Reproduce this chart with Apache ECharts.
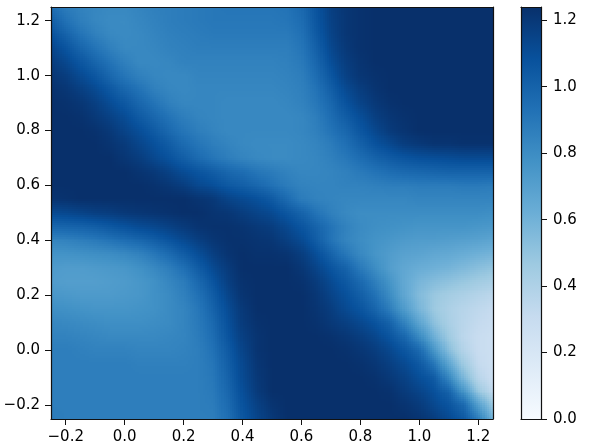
<!DOCTYPE html>
<html>
<head>
<meta charset="utf-8">
<style>html,body{margin:0;padding:0;background:#fff}#c{width:598px;height:448px}</style>
<script src="https://cdn.jsdelivr.net/npm/echarts@6/dist/echarts.min.js"></script>
</head>
<body>
<div id="c"></div>
<script>
const xNodes = [-0.25,-0.2,-0.15,-0.1,-0.05,0,0.05,0.1,0.15,0.2,0.25,0.3,0.35,0.4,0.45,0.5,0.55,0.6,0.65,0.7,0.75,0.8,0.85,0.9,0.95,1,1.05,1.1,1.15,1.2,1.25];
const yNodes = [1.25,1.2,1.15,1.1,1.05,1,0.95,0.9,0.85,0.8,0.75,0.7,0.65,0.6,0.55,0.5,0.45,0.4,0.35,0.3,0.25,0.2,0.15,0.1,0.05,0,-0.05,-0.1,-0.15,-0.2,-0.25];
const xTicks = [-0.2,0,0.2,0.4,0.6,0.8,1,1.2];
const yTicks = [-0.2,0,0.2,0.4,0.6,0.8,1,1.2];
const barTicks = [0,0.2,0.4,0.6,0.8,1,1.2];
const vMax = 1.24;
const blues = ['#f7fbff','#deebf7','#c6dbef','#9ecae1','#6baed6','#4292c6','#2171b5','#08519c','#08306b'];
const values = [
[.94,.88,.85,.83,.82,.82,.84,.86,.87,.88,.89,.90,.91,.91,.91,.91,.92,.97,1.07,1.17,1.21,1.23,1.24,1.24,1.24,1.24,1.24,1.24,1.24,1.24,1.24],
[1.02,.93,.87,.83,.81,.81,.83,.85,.87,.88,.89,.90,.90,.90,.90,.90,.91,.95,1.06,1.16,1.21,1.23,1.24,1.24,1.24,1.24,1.24,1.24,1.24,1.24,1.24],
[1.08,1.0,.92,.86,.82,.81,.82,.84,.86,.87,.88,.89,.89,.89,.89,.89,.89,.93,1.04,1.15,1.21,1.23,1.24,1.24,1.24,1.24,1.24,1.24,1.24,1.24,1.24],
[1.14,1.07,.99,.92,.86,.82,.82,.83,.85,.86,.87,.87,.87,.87,.87,.87,.87,.91,1.01,1.13,1.2,1.23,1.24,1.24,1.24,1.24,1.24,1.24,1.24,1.24,1.24],
[1.18,1.13,1.06,.99,.92,.86,.82,.82,.83,.85,.85,.85,.85,.85,.85,.85,.86,.89,.98,1.1,1.18,1.22,1.24,1.24,1.24,1.24,1.24,1.24,1.24,1.24,1.24],
[1.21,1.18,1.12,1.06,.98,.91,.86,.83,.82,.82,.84,.84,.84,.84,.84,.84,.85,.87,.95,1.06,1.16,1.21,1.23,1.24,1.24,1.24,1.24,1.24,1.24,1.24,1.24],
[1.23,1.21,1.17,1.12,1.05,.98,.92,.86,.83,.82,.83,.83,.83,.83,.83,.83,.84,.86,.92,1.02,1.12,1.18,1.22,1.24,1.24,1.24,1.24,1.24,1.24,1.24,1.24],
[1.24,1.23,1.21,1.17,1.11,1.05,.98,.92,.86,.83,.83,.83,.82,.82,.82,.82,.83,.85,.9,.98,1.08,1.15,1.20,1.23,1.24,1.24,1.24,1.24,1.24,1.24,1.24],
[1.24,1.24,1.23,1.2,1.16,1.11,1.04,.98,.92,.87,.84,.83,.82,.82,.82,.82,.82,.83,.87,.95,1.03,1.1,1.17,1.21,1.23,1.24,1.24,1.24,1.24,1.24,1.24],
[1.24,1.24,1.24,1.23,1.2,1.15,1.1,1.04,.97,.91,.87,.84,.82,.82,.82,.82,.82,.83,.86,.92,.98,1.06,1.13,1.19,1.22,1.24,1.24,1.24,1.24,1.24,1.24],
[1.24,1.24,1.24,1.24,1.22,1.19,1.14,1.09,1.03,.96,.91,.87,.84,.82,.81,.81,.81,.82,.84,.88,.94,1.01,1.08,1.13,1.18,1.2,1.22,1.22,1.23,1.23,1.23],
[1.24,1.24,1.24,1.24,1.24,1.21,1.18,1.13,1.08,1.02,.96,.91,.87,.84,.82,.81,.81,.82,.83,.86,.9,.95,1.0,1.04,1.07,1.09,1.1,1.11,1.12,1.12,1.12],
[1.24,1.24,1.24,1.24,1.24,1.24,1.22,1.2,1.16,1.11,1.07,1.03,.98,.95,.91,.88,.85,.83,.83,.84,.86,.89,.92,.95,.97,.98,.99,1.0,1.0,1.0,1.0],
[1.24,1.24,1.24,1.24,1.24,1.24,1.24,1.23,1.21,1.18,1.13,1.1,1.05,1.02,.98,.93,.88,.85,.84,.84,.85,.85,.86,.87,.87,.88,.88,.88,.89,.89,.88],
[1.22,1.23,1.24,1.24,1.24,1.24,1.24,1.24,1.24,1.24,1.22,1.2,1.15,1.12,1.09,1.04,.96,.88,.85,.84,.83,.83,.83,.83,.83,.84,.84,.84,.84,.84,.84],
[1.12,1.13,1.15,1.17,1.18,1.2,1.21,1.22,1.23,1.24,1.24,1.22,1.21,1.18,1.15,1.12,1.06,1.0,.92,.86,.82,.8,.8,.8,.8,.8,.8,.8,.8,.8,.79],
[.98,.99,1.0,1.02,1.05,1.08,1.11,1.13,1.16,1.19,1.22,1.23,1.23,1.22,1.2,1.18,1.13,1.07,1.0,.92,.85,.81,.79,.78,.77,.76,.76,.76,.76,.75,.74],
[.84,.85,.87,.89,.92,.95,.98,1.02,1.07,1.12,1.17,1.21,1.23,1.23,1.22,1.21,1.17,1.12,1.03,.92,.84,.8,.77,.75,.73,.72,.72,.71,.7,.69,.67],
[.77,.77,.78,.79,.8,.82,.85,.9,.96,1.03,1.1,1.17,1.22,1.24,1.23,1.23,1.22,1.18,1.1,1.0,.9,.82,.76,.72,.69,.68,.66,.65,.63,.61,.59],
[.73,.72,.72,.73,.74,.75,.78,.82,.87,.94,1.03,1.12,1.19,1.24,1.24,1.24,1.24,1.21,1.15,1.07,1.0,.89,.8,.71,.66,.63,.61,.59,.56,.53,.5],
[.72,.71,.71,.71,.72,.73,.75,.78,.83,.88,.97,1.07,1.17,1.23,1.24,1.24,1.24,1.23,1.19,1.12,1.05,.97,.87,.76,.65,.58,.54,.51,.48,.45,.42],
[.75,.74,.73,.73,.73,.74,.75,.78,.81,.86,.93,1.03,1.14,1.22,1.24,1.24,1.24,1.24,1.21,1.15,1.09,1.02,.93,.8,.66,.55,.48,.44,.41,.38,.35],
[.79,.78,.77,.76,.76,.76,.77,.78,.81,.84,.9,1.0,1.11,1.2,1.24,1.24,1.24,1.24,1.22,1.18,1.12,1.07,.99,.87,.72,.58,.47,.41,.37,.34,.31],
[.83,.82,.81,.8,.79,.79,.79,.8,.81,.84,.89,.97,1.09,1.19,1.23,1.24,1.24,1.24,1.23,1.2,1.17,1.13,1.08,1.0,.85,.68,.52,.42,.36,.32,.29],
[.85,.85,.84,.83,.82,.82,.82,.82,.83,.84,.88,.95,1.07,1.17,1.22,1.24,1.24,1.24,1.24,1.23,1.21,1.18,1.14,1.07,.98,.82,.62,.46,.35,.3,.27],
[.87,.87,.86,.85,.85,.85,.84,.84,.84,.85,.87,.93,1.04,1.15,1.22,1.24,1.24,1.24,1.24,1.24,1.23,1.21,1.18,1.13,1.06,.97,.75,.53,.38,.3,.27],
[.87,.87,.87,.87,.87,.87,.86,.86,.86,.86,.87,.91,1.02,1.13,1.21,1.24,1.24,1.24,1.24,1.24,1.24,1.23,1.21,1.17,1.12,1.05,.91,.67,.46,.32,.27],
[.87,.87,.87,.87,.87,.87,.87,.87,.87,.87,.87,.9,1.0,1.12,1.2,1.24,1.24,1.24,1.24,1.24,1.24,1.24,1.23,1.2,1.16,1.1,1.04,.83,.57,.37,.28],
[.87,.87,.87,.87,.87,.87,.87,.87,.87,.87,.87,.89,.98,1.1,1.19,1.24,1.24,1.24,1.24,1.24,1.24,1.24,1.24,1.23,1.19,1.15,1.09,1.0,.76,.49,.33],
[.87,.87,.87,.87,.87,.87,.87,.87,.87,.87,.87,.88,.96,1.08,1.16,1.22,1.24,1.24,1.24,1.24,1.24,1.24,1.24,1.24,1.22,1.19,1.13,1.07,.97,.71,.48],
[.88,.87,.87,.87,.87,.87,.87,.87,.87,.87,.87,.87,.94,1.06,1.14,1.2,1.24,1.24,1.24,1.24,1.24,1.24,1.24,1.24,1.24,1.22,1.18,1.12,1.05,.88,.6]
];

const cellData = [];
yNodes.forEach((y, r) => xNodes.forEach((x, c) => cellData.push([x, y, values[r][c], r, c])));

const toColor = v => echarts.color.lerp(Math.max(0, Math.min(1, v / vMax)), blues);
const SUB = 7;
const renderCell = (params, api) => {
  const r = api.value(3), c = api.value(4);
  if (r >= yNodes.length - 1 || c >= xNodes.length - 1) return null;
  const p0 = api.coord([xNodes[c], yNodes[r]]);
  const p1 = api.coord([xNodes[c + 1], yNodes[r + 1]]);
  const a = values[r][c], b = values[r][c + 1], d = values[r + 1][c], e = values[r + 1][c + 1];
  const children = [];
  for (let i = 0; i < SUB; i++) {
    const x0 = Math.round(p0[0] + (p1[0] - p0[0]) * i / SUB), x1 = Math.round(p0[0] + (p1[0] - p0[0]) * (i + 1) / SUB);
    const u = (i + 0.5) / SUB;
    for (let j = 0; j < SUB; j++) {
      const y0 = Math.round(p0[1] + (p1[1] - p0[1]) * j / SUB), y1 = Math.round(p0[1] + (p1[1] - p0[1]) * (j + 1) / SUB);
      const w = (j + 0.5) / SUB;
      const v = a * (1 - u) * (1 - w) + b * u * (1 - w) + d * (1 - u) * w + e * u * w;
      children.push({type: 'rect', shape: {x: x0, y: y0, width: x1 - x0, height: y1 - y0}, style: {fill: toColor(v)}});
    }
  }
  return {type: 'group', children};
};
const renderBar = (params, api) => {
  const p0 = api.coord([0, vMax]);
  const p1 = api.coord([1, 0]);
  return {type: 'rect', shape: {x: p0[0], y: p0[1], width: p1[0] - p0[0], height: p1[1] - p0[1]},
    style: {fill: new echarts.graphic.LinearGradient(0, 1, 0, 0, blues.map((color, i) => ({offset: i / (blues.length - 1), color})))}};
};

const fmt = v => v.toFixed(1).replace('-', '\u2212');
const font = {color: '#000', fontFamily: 'DejaVu Sans', fontSize: 15};
const line = {show: true, onZero: false, lineStyle: {color: '#111', width: 1.2}};
const tick = (vals) => ({show: true, length: 6, lineStyle: {color: '#111', width: 1}, customValues: vals});
const label = (vals, m) => ({show: true, ...font, margin: m, formatter: fmt, customValues: vals, showMinLabel: true, showMaxLabel: true});
const bare = {axisLine: line, axisTick: {show: false}, axisLabel: {show: false}, splitLine: {show: false}, z: 10};

const chart = echarts.init(document.getElementById('c'), null, {renderer: 'canvas'});
chart.setOption({
  animation: false,
  backgroundColor: '#fff',
  grid: [
    {left: 51, top: 7, width: 442, height: 412},
    {left: 521, top: 7, width: 20, height: 412}
  ],
  xAxis: [
    {gridIndex: 0, type: 'value', min: -0.25, max: 1.25, position: 'bottom', axisLine: line, axisTick: tick(xTicks), axisLabel: label(xTicks, 11), splitLine: {show: false}, z: 10},
    {gridIndex: 0, type: 'value', min: -0.25, max: 1.25, position: 'top', ...bare},
    {gridIndex: 1, type: 'value', min: 0, max: 1, position: 'bottom', ...bare},
    {gridIndex: 1, type: 'value', min: 0, max: 1, position: 'top', ...bare}
  ],
  yAxis: [
    {gridIndex: 0, type: 'value', min: -0.25, max: 1.25, position: 'left', axisLine: line, axisTick: tick(yTicks), axisLabel: label(yTicks, 11), splitLine: {show: false}, z: 10},
    {gridIndex: 0, type: 'value', min: -0.25, max: 1.25, position: 'right', ...bare},
    {gridIndex: 1, type: 'value', min: 0, max: vMax, position: 'left', ...bare},
    {gridIndex: 1, type: 'value', min: 0, max: vMax, position: 'right', axisLine: line, axisTick: tick(barTicks), axisLabel: label(barTicks, 12), splitLine: {show: false}, z: 10}
  ],
  series: [
    {type: 'custom', xAxisIndex: 0, yAxisIndex: 0, coordinateSystem: 'cartesian2d', silent: true, clip: true, progressive: 0, renderItem: renderCell, data: cellData, encode: {x: 0, y: 1}},
    {type: 'custom', xAxisIndex: 2, yAxisIndex: 3, coordinateSystem: 'cartesian2d', silent: true, renderItem: renderBar, data: [[0, 0]], encode: {x: 0, y: 1}}
  ]
});
</script>
</body>
</html>
